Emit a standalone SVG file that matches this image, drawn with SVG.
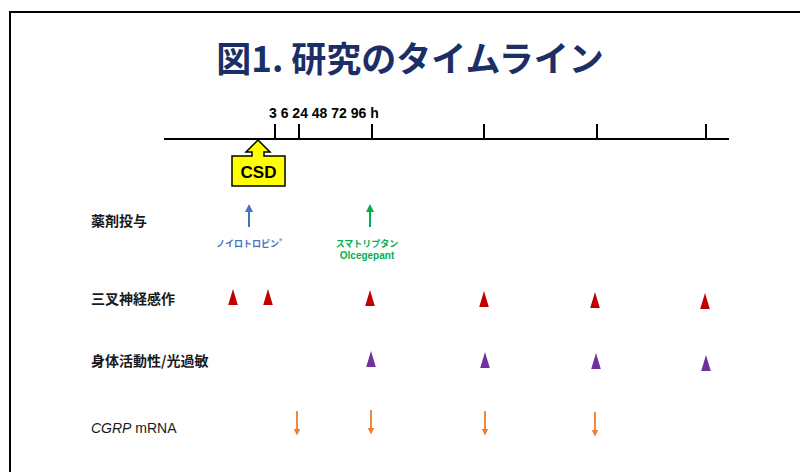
<svg xmlns="http://www.w3.org/2000/svg" xmlns:xlink="http://www.w3.org/1999/xlink" width="800" height="472" viewBox="0 0 800 472">
<style>
.jp{font-family:"Noto Sans CJK JP","Noto Sans",sans-serif;font-weight:bold}
.lat{font-family:"Liberation Sans",Arial,sans-serif;font-weight:bold}
.reg{font-family:"Liberation Sans",Arial,sans-serif;font-weight:normal}
.lbl{font-size:14px;fill:#1a1a1a}
.axis{stroke:#000;stroke-width:2;fill:none}
</style>
<defs>
<marker id="ahB" markerWidth="8" markerHeight="8" refX="4" refY="4" orient="auto" markerUnits="userSpaceOnUse"><path d="M0,0 L8,4 L0,8 Z" fill="#4472c4"/></marker>
<marker id="ahG" markerWidth="8" markerHeight="8" refX="4" refY="4" orient="auto" markerUnits="userSpaceOnUse"><path d="M0,0 L8,4 L0,8 Z" fill="#00b050"/></marker>
<marker id="ahO" markerWidth="7" markerHeight="7" refX="3.5" refY="3.5" orient="auto" markerUnits="userSpaceOnUse"><path d="M0,0 L7,3.5 L0,7 Z" fill="#ed7d31"/></marker>
<path id="tri" d="M0,-16 L4.8,0 L-4.8,0 Z"/>
</defs>
<rect x="0" y="0" width="800" height="472" fill="#fff"/>
<rect x="10" y="12" width="800" height="470" fill="none" stroke="#000" stroke-width="2"/>
<g id="title"><text x="410" y="72" text-anchor="middle" class="jp" font-size="35" fill="#1b2f66">図1. 研究のタイムライン</text></g>
<g id="timeline">
<line class="axis" x1="164" y1="139" x2="729" y2="139"/>
<path class="axis" d="M275,124V139M299,124V139M372,124V139M484,124V139M597,124V139M706,124V139"/>
<text x="269" y="118" class="lat" font-size="14" fill="#000">3 6 24 48 72 96 h</text>
</g>
<g id="csd">
<path d="M232,156 H252 V152 H246 L258,140 L270,152 H264 V156 H285 V186 H232 Z" fill="#ffff00" stroke="#000" stroke-width="1.5" stroke-linejoin="miter"/>
<text x="258.5" y="178" text-anchor="middle" class="lat" font-size="17" fill="#000">CSD</text>
</g>
<g id="row-drug">
<text x="91" y="226" class="jp lbl">薬剤投与</text>
<line x1="249" y1="227" x2="249" y2="208" stroke="#4472c4" stroke-width="2" marker-end="url(#ahB)"/>
<text x="249" y="247" text-anchor="middle" class="jp" font-size="9" fill="#4472c4">ノイロトロピン<tspan font-size="6" dy="-3">®</tspan></text>
<line x1="370" y1="227" x2="370" y2="208" stroke="#00b050" stroke-width="2" marker-end="url(#ahG)"/>
<text x="367" y="247" text-anchor="middle" class="jp" font-size="9" fill="#00b050">スマトリプタン</text>
<text x="367" y="259" text-anchor="middle" class="lat" font-size="10" fill="#00b050">Olcegepant</text>
</g>
<g id="row-trigeminal" fill="#c00000">
<text x="91" y="304" class="jp lbl">三叉神経感作</text>
<use xlink:href="#tri" x="233" y="305"/>
<use xlink:href="#tri" x="268" y="305"/>
<use xlink:href="#tri" x="370" y="306"/>
<use xlink:href="#tri" x="484" y="307"/>
<use xlink:href="#tri" x="595" y="308"/>
<use xlink:href="#tri" x="705" y="309"/>
</g>
<g id="row-activity" fill="#7030a0">
<text x="91" y="366" class="jp lbl">身体活動性/光過敏</text>
<use xlink:href="#tri" x="371" y="367"/>
<use xlink:href="#tri" x="485" y="368"/>
<use xlink:href="#tri" x="596" y="369"/>
<use xlink:href="#tri" x="706" y="371"/>
</g>
<g id="row-cgrp">
<text x="91" y="433" class="reg" font-size="14" fill="#1a1a1a"><tspan font-style="italic">CGRP</tspan> mRNA</text>
<g stroke="#ed7d31" stroke-width="1.8" marker-end="url(#ahO)">
<line x1="297" y1="411" x2="297" y2="432"/>
<line x1="371" y1="410" x2="371" y2="431"/>
<line x1="485" y1="411" x2="485" y2="432"/>
<line x1="595" y1="412" x2="595" y2="433"/>
</g>
</g>
</svg>
